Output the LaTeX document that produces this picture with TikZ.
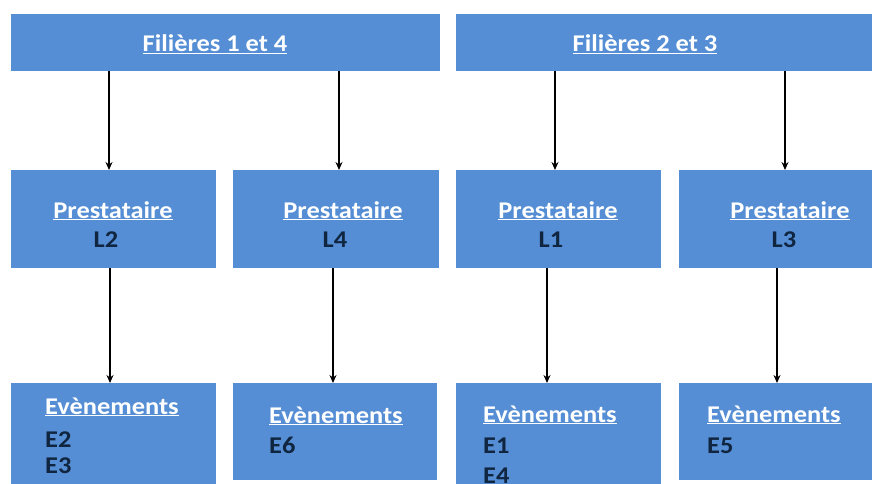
\documentclass[tikz,border=0pt]{standalone}
\usepackage{fontspec}
\setmainfont{Carlito}[FakeStretch=1.1]
\usetikzlibrary{arrows.meta}
\definecolor{boxblue}{HTML}{558ED5}
\definecolor{navy}{HTML}{10253F}
\begin{document}
\begin{tikzpicture}[x=1pt,y=-1pt,
  box/.style={fill=boxblue, draw=none, inner sep=0pt, outer sep=0pt, anchor=north west},
  head/.style={text=white, font=\bfseries\fontsize{24}{28}\selectfont, inner sep=0pt},
  item/.style={text=navy, font=\bfseries\fontsize{24}{28}\selectfont, inner sep=0pt},
  arr/.style={-{Stealth[length=8pt,width=7pt]}, line width=1.3pt, black}]
\useasboundingbox (0,0) rectangle (872,484);
\fill[white] (0,0) rectangle (872,484);
% top boxes
\node[box, minimum width=429pt, minimum height=57pt] (t1) at (11,14) {};
\node[box, minimum width=420pt, minimum height=57pt] (t2) at (456,14) {};
% middle boxes
\node[box, minimum width=205pt, minimum height=98pt] (m1) at (11,170) {};
\node[box, minimum width=206pt, minimum height=98pt] (m2) at (233,170) {};
\node[box, minimum width=205pt, minimum height=98pt] (m3) at (456,170) {};
\node[box, minimum width=200pt, minimum height=98pt] (m4) at (679,170) {};
% bottom boxes
\node[box, minimum width=205pt, minimum height=105pt] (b1) at (11,383) {};
\node[box, minimum width=204pt, minimum height=97pt] (b2) at (233,383) {};
\node[box, minimum width=205pt, minimum height=105pt] (b3) at (456,383) {};
\node[box, minimum width=200pt, minimum height=97pt] (b4) at (679,383) {};
% titles
\node[head, anchor=base] (h1) at (215,52) {\underline{Filières 1 et 4}};
\node[head, anchor=base] (h2) at (645,52) {\underline{Filières 2 et 3}};
% prestataires
\node[head, anchor=base] (p1) at (113,218) {\underline{Prestataire}};
\node[head, anchor=base] (p2) at (343,218) {\underline{Prestataire}};
\node[head, anchor=base] (p3) at (558,218) {\underline{Prestataire}};
\node[head, anchor=base] (p4) at (790,218) {\underline{Prestataire}};
\node[item, anchor=base] (l2) at (106,247) {L2};
\node[item, anchor=base] (l4) at (335,247) {L4};
\node[item, anchor=base] (l1) at (551,247) {L1};
\node[item, anchor=base] (l3) at (784,247) {L3};
% evenements
\node[head, anchor=base west] (v1) at (45,414) {\underline{Evènements}};
\node[item, anchor=base west] (e2) at (45,447) {E2};
\node[item, anchor=base west] (e3) at (45,473) {E3};
\node[head, anchor=base west] (v2) at (269,423) {\underline{Evènements}};
\node[item, anchor=base west] (e6) at (269,453) {E6};
\node[head, anchor=base west] (v3) at (483,422) {\underline{Evènements}};
\node[item, anchor=base west] (e1) at (483,453) {E1};
\node[item, anchor=base west] (e4) at (483,483) {E4};
\node[head, anchor=base west] (v4) at (707,422) {\underline{Evènements}};
\node[item, anchor=base west] (e5) at (707,453) {E5};
% arrows
\draw[arr] (t1.south -| 109,0) -- (m1.north -| 109,0);
\draw[arr] (t1.south -| 339,0) -- (m2.north -| 339,0);
\draw[arr] (t2.south -| 555,0) -- (m3.north -| 555,0);
\draw[arr] (t2.south -| 785,0) -- (m4.north -| 785,0);
\draw[arr] (m1.south -| 110,0) -- (b1.north -| 110,0);
\draw[arr] (m2.south -| 333,0) -- (b2.north -| 333,0);
\draw[arr] (m3.south -| 547,0) -- (b3.north -| 547,0);
\draw[arr] (m4.south -| 777,0) -- (b4.north -| 777,0);
\end{tikzpicture}
\end{document}
